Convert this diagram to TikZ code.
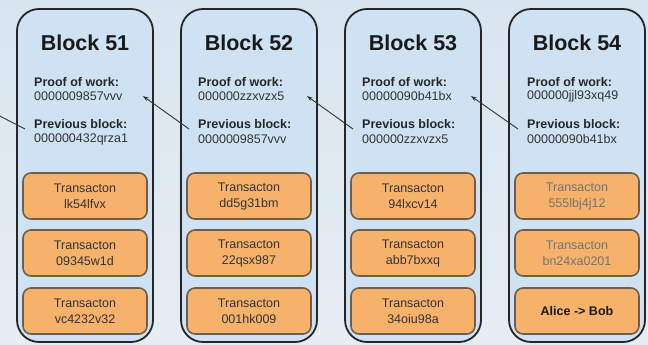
\documentclass[tikz,border=0pt]{standalone}
\usepackage{fontspec}
\setmainfont{Liberation Sans}
\usetikzlibrary{arrows.meta}
\definecolor{bgtop}{HTML}{D8E5EF}
\definecolor{bgbot}{HTML}{E6EDF3}
\definecolor{blockfill}{HTML}{CFE2F3}
\definecolor{txfill}{HTML}{F6B26B}
\definecolor{txline}{HTML}{6E5E4E}
\definecolor{txt}{HTML}{333333}
\tikzset{
  blockbox/.style={draw=black!85, line width=1.8pt, fill=blockfill, rounded corners=22pt,
    minimum width=136pt, minimum height=333pt, inner sep=0pt},
  blocktitle/.style={font=\fontsize{21.5}{24}\selectfont\bfseries, text=black!90},
  lab/.style={anchor=west, font=\fontsize{12.5}{14}\selectfont\bfseries, text=black!85, inner sep=0pt},
  val/.style={anchor=west, font=\fontsize{12.5}{14}\selectfont, text=txt, inner sep=0pt},
  tx/.style={draw=txline, line width=1.6pt, fill=txfill, rounded corners=8pt,
    minimum width=124pt, minimum height=46pt, align=center,
    font=\fontsize{12.5}{16}\selectfont, text=txt, inner sep=0pt},
  link/.style={draw=black!80, line width=0.9pt, -{Stealth[length=6pt,width=4pt]}},
  plainlink/.style={draw=black!80, line width=0.9pt},
}
\begin{document}
\begin{tikzpicture}[x=1pt,y=-1pt]
\useasboundingbox (0,0) rectangle (648,345);
\clip (0,0) rectangle (648,345);
\shade[top color=bgtop, bottom color=bgbot] (0,0) rectangle (648,345);

% Block 51
\node[blockbox] (b51) at (85,175.5) {};
\node[blocktitle] (t51) at (85,43) {Block 51};
\node[lab] (pl51) at (34,82) {Proof of work:};
\node[val] (pv51) at (34,96) {0000009857vvv};
\node[lab] (rl51) at (34,124) {Previous block:};
\node[val] (rv51) at (34,139) {000000432qrza1};
\node[tx] (x51a) at (85,196) {Transacton\\lk54lfvx};
\node[tx] (x51b) at (85,253) {Transacton\\09345w1d};
\node[tx] (x51c) at (85,311) {Transacton\\vc4232v32};

% Block 52
\node[blockbox] (b52) at (249,175.5) {};
\node[blocktitle] (t52) at (249,43) {Block 52};
\node[lab] (pl52) at (198,82) {Proof of work:};
\node[val] (pv52) at (198,96) {000000zzxvzx5};
\node[lab] (rl52) at (198,124) {Previous block:};
\node[val] (rv52) at (198,139) {0000009857vvv};
\node[tx] (x52a) at (249,196) {Transacton\\dd5g31bm};
\node[tx] (x52b) at (249,253) {Transacton\\22qsx987};
\node[tx] (x52c) at (249,311) {Transacton\\001hk009};

% Block 53
\node[blockbox] (b53) at (413,175.5) {};
\node[blocktitle] (t53) at (413,43) {Block 53};
\node[lab] (pl53) at (362,82) {Proof of work:};
\node[val] (pv53) at (362,96) {00000090b41bx};
\node[lab] (rl53) at (362,124) {Previous block:};
\node[val] (rv53) at (362,139) {000000zzxvzx5};
\node[tx] (x53a) at (413,196) {Transacton\\94lxcv14};
\node[tx] (x53b) at (413,253) {Transacton\\abb7bxxq};
\node[tx] (x53c) at (413,311) {Transacton\\34oiu98a};

% Block 54
\node[blockbox] (b54) at (577,175.5) {};
\node[blocktitle] (t54) at (577,43) {Block 54};
\node[lab] (pl54) at (527,82) {Proof of work:};
\node[val] (pv54) at (527,96) {000000jjl93xq49};
\node[lab] (rl54) at (527,124) {Previous block:};
\node[val] (rv54) at (527,139) {00000090b41bx};
\node[tx, text=black!55] (x54a) at (577,196) {Transacton\\555lbj4j12};
\node[tx, text=black!55] (x54b) at (577,253) {Transacton\\bn24xa0201};
\node[tx, font=\fontsize{12.5}{16}\selectfont\bfseries, text=black!90] (x54c) at (577,311) {Alice -> Bob};

% links
\coordinate (in51) at (-10,111);
\draw[plainlink] (in51) -- ([shift={(-9pt,-5pt)}]rl51.west);
\draw[link] ([shift={(-9pt,-5pt)}]rl52.west) -- ([xshift=-11pt]b51.east |- pv51.west);
\draw[link] ([shift={(-9pt,-5pt)}]rl53.west) -- ([xshift=-11pt]b52.east |- pv52.west);
\draw[link] ([shift={(-9pt,-5pt)}]rl54.west) -- ([xshift=-11pt]b53.east |- pv53.west);
\end{tikzpicture}
\end{document}
